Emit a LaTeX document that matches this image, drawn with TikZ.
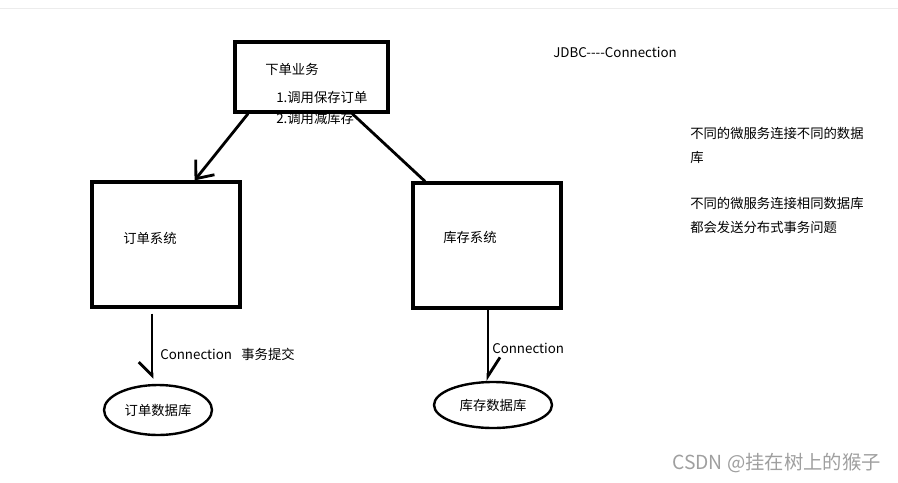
\documentclass[tikz,border=0pt]{standalone}
\usepackage{fontspec}
\setmainfont{Noto Sans CJK SC}
\usetikzlibrary{shapes.geometric, arrows.meta}

\begin{document}
\begin{tikzpicture}[
    x=0.75pt, y=-0.75pt,
    font=\fontsize{10pt}{12pt}\selectfont,
    box/.style={draw, line width=2.4pt, minimum width=111pt, minimum height=93.75pt, inner sep=0pt},
    dbnode/.style={draw, ellipse, line width=1.8pt, inner sep=0pt},
    txt/.style={anchor=west, inner sep=0pt, align=left},
    link/.style={line width=2.1pt},
    arr/.style={link, -{Straight Barb[length=11pt, width=18pt]}},
    harpl/.style={link, -{Straight Barb[right, length=10pt, width=20pt]}},
    harpr/.style={link, -{Straight Barb[left, length=14pt, width=18pt]}},
]
    \useasboundingbox (0,0) rectangle (898,482);
    \draw[gray!15, line width=0.75pt] (0,8) -- (898,8);

    % Top: order service
    \node[box, minimum width=114.75pt, minimum height=52.5pt] (task) at (311.5,77) {};
    \node[txt] (taskname) at (265,69) {下单业务};
    \node[txt] (step1) at (276,97) {1.调用保存订单};
    \node[txt] (step2) at (276,118) {2.调用减库存};

    \node[txt] (jdbc) at (553,52) {JDBC-{}-{}-{}-Connection};

    % Notes on the right
    \node[txt, font=\fontsize{10pt}{18pt}\selectfont] (note1) at (690,145) {不同的微服务连接不同的数据\\库};
    \node[txt, font=\fontsize{10pt}{18pt}\selectfont] (note2) at (690,215) {不同的微服务连接相同数据库\\都会发送分布式事务问题};

    % Middle row: systems
    \node[box] (ordersys) at (166,244.5) {};
    \node[txt] (ordername) at (123,238) {订单系统};
    \node[box] (storesys) at (487,245.5) {};
    \node[txt] (storename) at (443,237) {库存系统};

    \draw[arr] (task.-150) -- (ordersys.66);
    \draw[link] (task.-42) -- (storesys.134);

    % Bottom row: databases
    \node[dbnode, minimum width=81pt, minimum height=37.5pt] (orderdb) at (158,410) {订单数据库};
    \node[dbnode, minimum width=88.5pt, minimum height=34.5pt] (storedb) at (493,405) {库存数据库};

    \draw[harpl] ([xshift=-10.5pt, yshift=-3.75pt]ordersys.south) -- ([xshift=-4.5pt, yshift=3.75pt]orderdb.north);
    \draw[harpr] ([xshift=0.75pt]storesys.south) -- ([xshift=-3.75pt]storedb.north);

    \node[txt] (conn1) at (160,354) {Connection\hspace{7pt}事务提交};
    \node[txt] (conn2) at (492,348) {Connection};

    \node[txt, font=\fontsize{14.5pt}{16pt}\selectfont, text=gray!75] (mark) at (672,463) {CSDN @挂在树上的猴子};
\end{tikzpicture}
\end{document}
